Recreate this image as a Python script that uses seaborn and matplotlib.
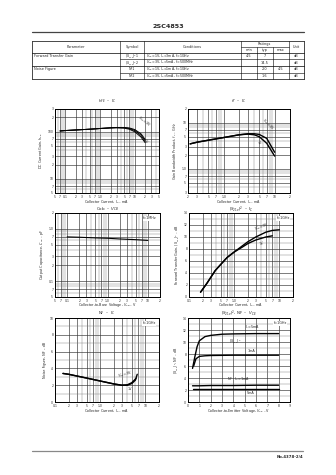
import numpy as np
import pandas as pd
import matplotlib
matplotlib.use("Agg")
import matplotlib.pyplot as plt
import seaborn as sns
from matplotlib.lines import Line2D
from matplotlib.ticker import FixedLocator, NullFormatter

# ---------------- data ----------------
hfe_ic = [0.07, 0.1, 0.2, 0.5, 1, 2, 3, 5, 7, 10, 15, 20]
hfe_3v = [103, 105, 108, 112, 116, 120, 122, 122, 119, 110, 90, 68]
hfe_2v = [103, 105, 108, 112, 116, 120, 121, 120, 116, 105, 84, 63]
hfe_1v = [103, 105, 108, 112, 116, 119, 120, 118, 112, 99, 77, 58]

ft_ic = [0.22, 0.3, 0.5, 1, 2, 3, 4, 5, 7, 10]
ft_3v = [3.5, 3.8, 4.2, 4.8, 5.5, 5.8, 5.8, 5.6, 4.6, 2.3]
ft_1v = [3.5, 3.8, 4.2, 4.8, 5.5, 5.7, 5.5, 5.0, 3.6, 1.9]

cob_v = [0.1, 0.2, 0.5, 1, 2, 5, 10]
cob_pf = [0.70, 0.69, 0.67, 0.66, 0.64, 0.62, 0.60]

s21_ic = [0.18, 0.25, 0.38, 0.5, 0.7, 1, 1.5, 2, 3, 5, 7, 10]
s21_3v = [0.8, 2.3, 4.4, 5.4, 6.6, 7.5, 8.5, 9.2, 10.0, 10.8, 11.1, 11.2]
s21_ic1 = [0.18, 0.25, 0.38, 0.5, 0.7, 1, 1.5, 2, 3, 5, 7]
s21_1v = [0.8, 2.3, 4.4, 5.4, 6.6, 7.5, 8.3, 8.9, 9.5, 10.0, 10.2]

nf_ic3 = [0.15, 0.2, 0.3, 0.5, 1, 2, 3, 4, 5, 6, 6.6]
nf_3v = [3.4, 3.3, 3.1, 2.85, 2.5, 2.15, 2.0, 2.0, 2.2, 2.6, 3.3]
nf_ic1 = [0.15, 0.2, 0.3, 0.5, 1, 2, 3, 4, 5, 6.2]
nf_1v = [3.4, 3.3, 3.1, 2.85, 2.5, 2.15, 2.0, 2.05, 2.3, 2.8]

vce_s5 = [0.4, 0.6, 0.8, 1.0, 1.5, 2, 3, 4, 6, 8]
s21_5ma = [5.6, 7.5, 9.2, 10.2, 10.9, 11.1, 11.3, 11.35, 11.4, 11.4]
vce_s1 = [0.5, 0.7, 1.0, 1.5, 2, 4, 6, 8]
s21_1ma = [6.0, 7.2, 7.6, 7.7, 7.75, 7.8, 7.8, 7.8]
vce_nf = [0.4, 1, 2, 4, 6, 8]
nf_1ma = [2.7, 2.7, 2.75, 2.75, 2.8, 2.8]
nf_5ma = [2.1, 2.1, 2.1, 2.1, 2.1, 2.1]

tbl_param = ["Forward Transfer Gain", "", "Noise Figure", ""]
tbl_symbol = [r"$|S_{21e}|^2$1", r"$|S_{21e}|^2$2", "NF1", "NF2"]
tbl_cond = [r"$V_{CE}$=1V, $I_C$=3mA, f=1GHz", r"$V_{CE}$=3V, $I_C$=5mA, f=500MHz",
            r"$V_{CE}$=1V, $I_C$=1mA, f=1GHz", r"$V_{CE}$=3V, $I_C$=5mA, f=500MHz"]
tbl_min = ["4.5", "", "", ""]
tbl_typ = ["7", "14.5", "2.0", "1.6"]
tbl_max = ["", "", "4.5", ""]
tbl_unit = ["dB", "dB", "dB", "dB"]

# ---------------- setup ----------------
sns.set_style("white")
plt.rcParams['font.family'] = ['DejaVu Sans']
plt.rcParams['mathtext.fontset'] = 'dejavusans'
W, H = 336, 475
fig = plt.figure(figsize=(W / 100, H / 100), dpi=100)
FS = 2.4

def line(x0, y0, x1, y1, lw=0.5, color="black"):
    fig.add_artist(Line2D([x0 / W, x1 / W], [1 - y0 / H, 1 - y1 / H],
                          transform=fig.transFigure, lw=lw, color=color))

def text(x, y, s, **kw):
    kw.setdefault("fontsize", 2.5)
    kw.setdefault("ha", "center")
    kw.setdefault("va", "center")
    fig.text(x / W, 1 - y / H, s, **kw)

def make_ax(l, t, r, b):
    ax = fig.add_axes([l / W, 1 - b / H, (r - l) / W, (b - t) / H])
    ax._hpx = b - t
    return ax

def fmt_major(v):
    if v < 1:
        return ("%g" % v)
    if v == 1:
        return "1.0"
    return "%d" % v

def log_ticks(ax, axis, lo, hi):
    vals, labs, minors = [], [], []
    for k in range(-3, 4):
        for m in range(1, 10):
            v = m * 10.0 ** k
            if lo * 0.999 <= v <= hi * 1.001:
                if m in (1, 2, 3, 5, 7):
                    vals.append(v)
                    labs.append(fmt_major(v) if m == 1 else str(m))
                else:
                    minors.append(v)
    a = ax.xaxis if axis == "x" else ax.yaxis
    a.set_major_locator(FixedLocator(vals))
    a.set_minor_locator(FixedLocator(minors))
    if axis == "x":
        ax.set_xticklabels(labs)
    else:
        ax.set_yticklabels(labs)
    a.set_minor_formatter(NullFormatter())

def style(ax, title, xlabel, ylabel, t_off, x_off):
    h = ax._hpx
    ax.set_title(title, fontsize=2.9, pad=0, y=1 + t_off / h, va="center")
    ax.set_xlabel(xlabel, fontsize=FS, va="center")
    ax.xaxis.set_label_coords(0.5, -x_off / h)
    ax.set_ylabel(ylabel, fontsize=FS, labelpad=2)
    ax.tick_params(axis="both", which="both", labelsize=2.2, length=0.8, width=0.3, pad=0.5)
    ax.grid(True, which="major", color="#333333", lw=0.45)
    ax.grid(True, which="minor", color="#777777", lw=0.3)
    for s in ax.spines.values():
        s.set_linewidth(0.7)
        s.set_color("black")
    ax.set_axisbelow(True)

LW = 1.0
K = "black"

# ---------------- page header & table ----------------
text(168, 26.5, "2SC4853", fontsize=4.6, fontweight="bold")
line(32, 32.3, 304, 32.3, lw=0.9, color="#444444")

x0, x1 = 32, 304
y0, y1 = 40.7, 79.3
cols = [120, 144, 240.7, 288.7]
for x in (x0, x1):
    line(x, y0, x, y1)
for y in (y0, y1, 52.7, 66):
    line(x0, y, x1, y, lw=0.5)
for x in cols:
    line(x, y0, x, y1, lw=0.4)
for x in (256.7, 272.7):
    line(x, 46.7, x, y1, lw=0.4)
line(240.7, 46.7, 288.7, 46.7, lw=0.4)
for y in (59.3, 72.7):
    line(120, y, x1, y, lw=0.4)

text(76, 46.7, "Parameter")
text(132, 46.7, "Symbol")
text(192, 46.7, "Conditions")
text(264.7, 43.7, "Ratings")
text(248.7, 49.7, "min")
text(264.7, 49.7, "typ")
text(280.7, 49.7, "max")
text(296.3, 46.7, "Unit")
row_y = [56, 62.7, 69.3, 76]
for i, yy in enumerate(row_y):
    if tbl_param[i]:
        text(34, yy, tbl_param[i], ha="left")
    text(132, yy, tbl_symbol[i], fontsize=2.3)
    text(146, yy, tbl_cond[i], ha="left", fontsize=2.3)
    text(248.7, yy, tbl_min[i])
    text(264.7, yy, tbl_typ[i])
    text(280.7, yy, tbl_max[i])
    text(296.3, yy, tbl_unit[i])

# ---------------- chart 1: hFE - IC ----------------
ax1 = make_ax(55, 109, 159, 193)
ax1.set_xscale("log"); ax1.set_yscale("log")
for ys in (hfe_3v, hfe_2v, hfe_1v):
    sns.lineplot(x=hfe_ic, y=ys, ax=ax1, color=K, lw=LW * 0.7)
ax1.set_xlim(0.05, 50); ax1.set_ylim(5, 300)
log_ticks(ax1, "x", 0.05, 50); log_ticks(ax1, "y", 5, 300)
style(ax1, r"$h_{FE}$  –  $I_C$", r"Collector Current, $I_C$ – mA", r"DC Current Gain, $h_{FE}$", 8, 9.0)
ax1.text(11, 115, r"$V_{CE}$=3V", fontsize=2.4, rotation=-38, ha="left", va="bottom")
ax1.text(17, 70, "1V", fontsize=2.4, rotation=-38, ha="left", va="top")

# ---------------- chart 2: fT - IC ----------------
ax2 = make_ax(188, 109, 290, 193)
ax2.set_xscale("log"); ax2.set_yscale("log")
sns.lineplot(x=ft_ic, y=ft_3v, ax=ax2, color=K, lw=LW)
sns.lineplot(x=ft_ic, y=ft_1v, ax=ax2, color=K, lw=LW)
ax2.set_xlim(0.2, 20); ax2.set_ylim(0.3, 20)
log_ticks(ax2, "x", 0.2, 20); log_ticks(ax2, "y", 0.3, 20)
style(ax2, r"$f_T$  –  $I_C$", r"Collector Current, $I_C$ – mA", r"Gain Bandwidth Product, $f_T$ – GHz", 8, 9.0)
ax2.text(5.2, 6.3, r"$V_{CE}$=3V", fontsize=2.4, rotation=-45, ha="left", va="bottom")
ax2.text(4.2, 4.2, "1V", fontsize=2.4, rotation=-45, ha="left", va="top")

# ---------------- chart 3: Cob - VCB ----------------
ax3 = make_ax(55, 213, 160, 297)
ax3.set_xscale("log"); ax3.set_yscale("log")
sns.lineplot(x=cob_v, y=cob_pf, ax=ax3, color=K, lw=LW * 0.8)
ax3.set_xlim(0.05, 20); ax3.set_ylim(0.05, 2)
log_ticks(ax3, "x", 0.05, 20); log_ticks(ax3, "y", 0.05, 2)
style(ax3, r"Cob  –  $V_{CB}$", r"Collector-to-Base Voltage, $V_{CB}$ – V", r"Output Capacitance, $C_{ob}$ – pF", 3.8, 8.4)
ax3.text(0.97, 0.96, "f=1MHz", transform=ax3.transAxes, fontsize=2.4, ha="right", va="top",
         bbox=dict(fc="white", ec="none", pad=0.3))

# ---------------- chart 4: |S21e|^2 - IC ----------------
ax4 = make_ax(189, 213, 293, 297)
ax4.set_xscale("log")
sns.lineplot(x=s21_ic, y=s21_3v, ax=ax4, color=K, lw=LW)
sns.lineplot(x=s21_ic1, y=s21_1v, ax=ax4, color=K, lw=LW)
ax4.set_xlim(0.1, 20); ax4.set_ylim(0, 14)
log_ticks(ax4, "x", 0.1, 20)
ax4.set_yticks(range(0, 15, 2))
ax4.yaxis.set_minor_locator(FixedLocator(range(1, 14, 2)))
style(ax4, r"$|S_{21e}|^2$  –  $I_C$", r"Collector Current, $I_C$ – mA", r"Forward Transfer Gain, $|S_{21e}|^2$ – dB", 3.8, 8.4)
ax4.text(2.6, 10.6, r"$V_{CE}$=3V", fontsize=2.4, rotation=20, ha="left", va="bottom")
ax4.text(3.5, 9.4, "1V", fontsize=2.4, rotation=15, ha="left", va="top")
ax4.text(0.97, 0.96, "f=1GHz", transform=ax4.transAxes, fontsize=2.4, ha="right", va="top",
         bbox=dict(fc="white", ec="none", pad=0.3))

# ---------------- chart 5: NF - IC ----------------
ax5 = make_ax(55, 318, 159, 402)
ax5.set_xscale("log")
sns.lineplot(x=nf_ic3, y=nf_3v, ax=ax5, color=K, lw=LW)
sns.lineplot(x=nf_ic1, y=nf_1v, ax=ax5, color=K, lw=LW)
ax5.set_xlim(0.1, 20); ax5.set_ylim(0, 10)
log_ticks(ax5, "x", 0.1, 20)
ax5.set_yticks(range(0, 11, 2))
ax5.yaxis.set_minor_locator(FixedLocator(range(1, 10, 2)))
style(ax5, r"NF  –  $I_C$", r"Collector Current, $I_C$ – mA", r"Noise Figure, NF – dB", 4.6, 9.0)
ax5.text(2.3, 2.6, r"$V_{CE}$=3V", fontsize=2.4, rotation=15, ha="left", va="bottom")
ax5.text(4.0, 1.8, "1V", fontsize=2.4, ha="left", va="top")
ax5.text(0.97, 0.96, "f=1GHz", transform=ax5.transAxes, fontsize=2.4, ha="right", va="top",
         bbox=dict(fc="white", ec="none", pad=0.3))

# ---------------- chart 6: |S21e|^2, NF - VCE ----------------
ax6 = make_ax(188, 318, 290, 402)
sns.lineplot(x=vce_s5, y=s21_5ma, ax=ax6, color=K, lw=LW)
sns.lineplot(x=vce_s1, y=s21_1ma, ax=ax6, color=K, lw=LW)
sns.lineplot(x=vce_nf, y=nf_1ma, ax=ax6, color=K, lw=LW)
sns.lineplot(x=vce_nf, y=nf_5ma, ax=ax6, color=K, lw=LW)
ax6.set_xlim(0, 9); ax6.set_ylim(0, 14)
ax6.set_xticks(range(0, 10, 1))
ax6.set_yticks(range(0, 15, 2))
ax6.yaxis.set_minor_locator(FixedLocator(range(1, 14, 2)))
style(ax6, r"$|S_{21e}|^2$, NF  –  $V_{CE}$", r"Collector-to-Emitter Voltage, $V_{CE}$ – V", r"$|S_{21e}|^2$, NF – dB", 4.6, 9.0)
ax6.text(5.0, 11.8, r"$I_C$=5mA", fontsize=2.4, ha="left", va="bottom")
ax6.text(3.6, 10.8, r"$|S_{21e}|^2$", fontsize=2.4, ha="left", va="top")
ax6.text(5.3, 8.2, "1mA", fontsize=2.4, ha="left", va="bottom")
ax6.text(3.4, 3.1, r"NF   $I_C$=1mA", fontsize=2.4, ha="left", va="bottom")
ax6.text(5.2, 1.8, "5mA", fontsize=2.4, ha="left", va="top")
ax6.text(0.97, 0.96, "f=1GHz", transform=ax6.transAxes, fontsize=2.4, ha="right", va="top",
         bbox=dict(fc="white", ec="none", pad=0.3))

# ---------------- footer ----------------
line(32, 451, 303, 451, lw=0.9, color="#888888")
text(303, 456.5, "No.4378-2/4", ha="right", fontsize=2.8, fontweight="bold")

fig.savefig("out.png", dpi=100)
